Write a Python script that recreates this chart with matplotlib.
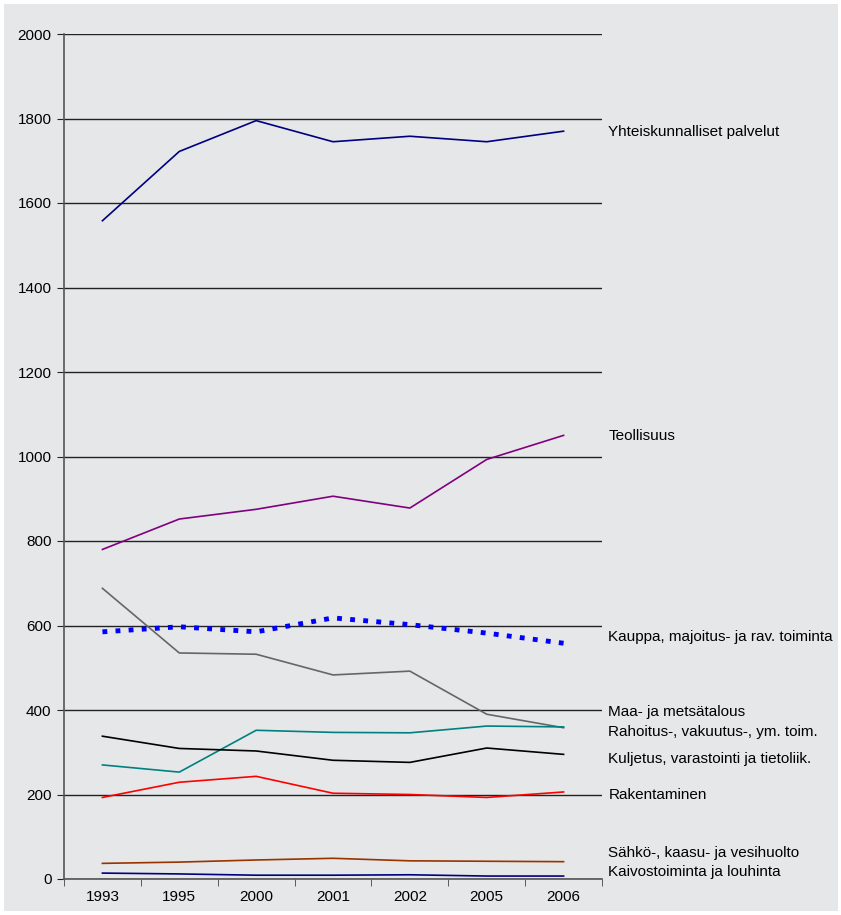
import matplotlib
matplotlib.use("Agg")
from matplotlib import pyplot as plt
from matplotlib.patches import Rectangle

plt.rcParams['font.family'] = ['Liberation Sans', 'DejaVu Sans']

years = ['1993', '1995', '2000', '2001', '2002', '2005', '2006']

# values per sector
yhteiskunnalliset = [1558, 1722, 1795, 1745, 1758, 1745, 1770]
teollisuus = [780, 852, 875, 906, 878, 993, 1050]
kauppa = [585, 597, 585, 618, 602, 582, 558]
maa_metsa = [688, 535, 532, 483, 492, 390, 358]
rahoitus = [270, 253, 352, 347, 346, 362, 360]
kuljetus = [338, 309, 303, 281, 276, 310, 295]
rakentaminen = [193, 229, 243, 203, 200, 193, 206]
sahko = [37, 40, 45, 49, 43, 42, 41]
kaivos = [14, 12, 9, 9, 10, 7, 7]

labels = ['Yhteiskunnalliset palvelut', 'Teollisuus',
          'Kauppa, majoitus- ja rav. toiminta', 'Maa- ja metsätalous',
          'Rahoitus-, vakuutus-, ym. toim.', 'Kuljetus, varastointi ja tietoliik.',
          'Rakentaminen', 'Sähkö-, kaasu- ja vesihuolto', 'Kaivostoiminta ja louhinta']
label_y = [1768, 1048, 573, 395, 348, 284, 199, 62, 17]

series = [yhteiskunnalliset, teollisuus, kauppa, maa_metsa, rahoitus,
          kuljetus, rakentaminen, sahko, kaivos]
colors = ['#000080', '#800080', '#0000ff', '#666666', '#008080',
          '#000000', '#ff0000', '#993300', '#000080']

bg = '#e6e7e9'
fig = plt.figure(figsize=(8.41, 9.15), dpi=100, facecolor='white')
fig.patches.append(Rectangle((4 / 841, 4 / 915), 834 / 841, 907 / 915,
                             transform=fig.transFigure, facecolor=bg,
                             edgecolor='none', zorder=-10))
ax = fig.add_axes([64 / 841, 1 - 879 / 915, 538 / 841, 845 / 915])
ax.set_facecolor(bg)

x = list(range(len(years)))
for vals, c in zip(series, colors):
    if vals is kauppa:
        ax.plot(x, vals, color=c, lw=3.5, linestyle=(0, (1, 1.7)), zorder=3)
    else:
        ax.plot(x, vals, color=c, lw=1.2, zorder=3)

for lab, ly in zip(labels, label_y):
    ax.text(1.012, ly, lab, transform=ax.get_yaxis_transform(),
            va='center', ha='left', fontsize=11, clip_on=False)

ax.set_xlim(-0.5, len(years) - 0.5)
ax.set_ylim(0, 2000)
ax.set_yticks(range(0, 2001, 200))
ax.set_xticks(x)
ax.set_xticklabels(years)
ax.set_xticks([i - 0.5 for i in range(len(years) + 1)], minor=True)
ax.tick_params(axis='x', which='major', length=0, pad=8, labelsize=11)
ax.tick_params(axis='x', which='minor', length=5, color='#444444')
ax.tick_params(axis='y', length=5, color='#222222', labelsize=11, pad=4)

ax.yaxis.grid(True, color='#222222', lw=1)
ax.set_axisbelow(True)
for s in ['top', 'right']:
    ax.spines[s].set_visible(False)
ax.spines['left'].set_color('#555555')
ax.spines['bottom'].set_color('#555555')
ax.spines['left'].set_linewidth(1.2)
ax.spines['bottom'].set_linewidth(1.2)

fig.savefig('out.png', dpi=100, facecolor=fig.get_facecolor())
